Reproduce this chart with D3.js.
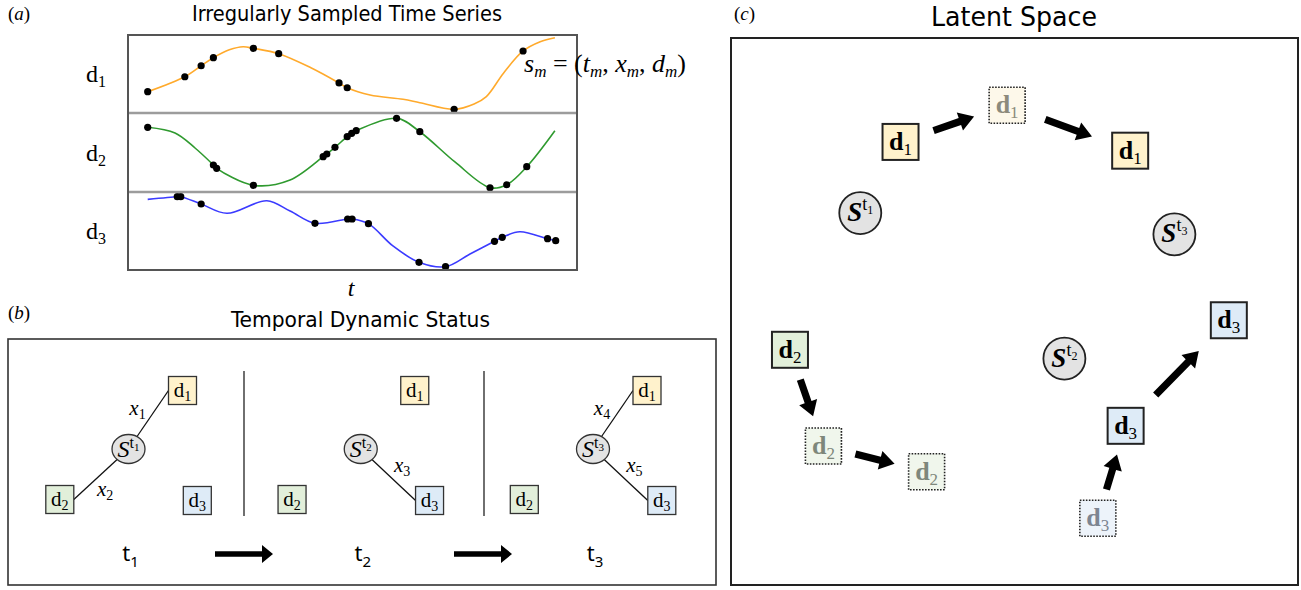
<!DOCTYPE html>
<html>
<head>
<meta charset="utf-8">
<script src="https://d3js.org/d3.v7.min.js"></script>
<style>
  body { margin: 0; background: #fff; }
</style>
</head>
<body>
<script>
// ---------- panel (a): sampled points [t, value] and extra curve shape points
// t runs 0..100, each value 0..10 inside its own strip
var d1Samples = [[0,2.73],[9.1,4.65],[13.1,6.06],[16.1,7.09],[25.9,8.29],[32.1,7.6],[46.9,3.85],[48.9,3.24],[75.1,0.47],[92,7.95]];
var d1Shape   = [[20,8.1],[23.4,8.5],[40,5.8],[54.5,2.31],[62.6,1.76],[66.7,1.32],[80,1.15],[83,2.1],[87.2,5.1],[96.2,9.14],[99.8,9.65]];
var d2Samples = [[0,8.19],[16.1,3.42],[16.9,3.0],[25.9,0.85],[43.0,4.47],[43.9,4.81],[45.9,5.66],[48.9,7.0],[50.0,7.43],[51.1,7.76],[61.0,9.33],[66.7,7.63],[83.9,0.54],[88.0,0.92],[92.9,3.2]];
var d2Shape   = [[6.7,7.47],[11.6,5.57],[34.9,1.52],[75.3,3.8],[99.8,7.76]];
var d3Samples = [[7.25,9.4],[8.1,9.4],[13.1,8.46],[41.0,5.99],[49.0,6.54],[50.1,6.54],[54.1,5.94],[66.5,0.99],[73.0,0.42],[85.0,3.68],[86.9,4.19],[98.0,4.01],[100,3.76]];
var d3Shape   = [[0,9.06],[19.4,7.27],[29.2,8.88],[34.9,7.56],[60.1,3.08],[79,2.05],[91.2,4.91]];

// ---------- panel (b): which dimensions are observed at each time step
var steps = ["1","2","3"];
var stepDims = [[1,2],[3],[1,3]];
var stepObs = [["1","2"],["3"],["4","5"]];

// ---------- panel (c): latent coordinates (0..10) per dimension at t1,t2,t3
var d1Latent = [[2.99,8.10],[4.87,8.77],[7.04,7.94]];
var d2Latent = [[1.04,4.30],[1.63,2.54],[3.45,2.07]];
var d3Latent = [[6.47,1.22],[6.96,2.91],[8.78,4.84]];
var statusLatent = [[2.28,6.80],[5.88,4.14],[7.82,6.41]];

var W = 1301, H = 590;
var serif = "'Liberation Serif', 'DejaVu Serif', serif";
var narrow = "'Liberation Sans Narrow', 'DejaVu Sans Condensed', 'Roboto Condensed', sans-serif";
var sans = "'Noto Sans', 'Open Sans', sans-serif";

var dimFill  = ["#fff2cc", "#e2efda", "#deebf7"];
var ghostFill = ["#fdf8ea", "#f0f6ec", "#edf3fa"];
var ghostText = ["#8c8a7c", "#7e877b", "#7d8591"];

var svg = d3.select("body").append("svg")
  .attr("width", W).attr("height", H)
  .style("font-family", serif);

// text with a subscript (and optional superscript) -- parts: [text, size, dy, extra style]
function rich(g, x, y, parts, anchor) {
  var t = g.append("text").attr("x", x).attr("y", y)
    .attr("text-anchor", anchor || "middle");
  parts.forEach(function(p) {
    var s = t.append("tspan").text(p[0]).attr("font-size", p[1]).attr("dy", p[2] || 0);
    if (p[3]) for (var k in p[3]) s.style(k, p[3][k]);
  });
  return t;
}

function arrowPath(x0, y0, x1, y1, sw, hw, hl) {
  var dx = x1 - x0, dy = y1 - y0, L = Math.hypot(dx, dy);
  var ux = dx / L, uy = dy / L, nx = -uy, ny = ux;
  var bx = x1 - ux * hl, by = y1 - uy * hl;
  var pts = [[x0 + nx*sw, y0 + ny*sw], [bx + nx*sw, by + ny*sw], [bx + nx*hw, by + ny*hw],
             [x1, y1], [bx - nx*hw, by - ny*hw], [bx - nx*sw, by - ny*sw], [x0 - nx*sw, y0 - ny*sw]];
  return "M" + pts.map(function(p) { return p[0].toFixed(1) + "," + p[1].toFixed(1); }).join("L") + "Z";
}

var it = {"font-style": "italic"};

// ================= (a) Irregularly Sampled Time Series =================
var gA = svg.append("g");
rich(gA, 8, 20, [["(", 19], ["a", 19, 0, it], [")", 19]], "start");
gA.append("text").attr("x", 192).attr("y", 21).attr("font-family", narrow)
  .attr("font-size", 21).attr("textLength", 310).attr("lengthAdjust", "spacingAndGlyphs")
  .text("Irregularly Sampled Time Series");

var xA = d3.scaleLinear().domain([0, 100]).range([147.7, 555.7]);
var strips = [[113, 35], [192, 113], [270, 192]];
var seriesA = [
  {samples: d1Samples, shape: d1Shape, color: "#ffaa2c"},
  {samples: d2Samples, shape: d2Shape, color: "#2f9a2f"},
  {samples: d3Samples, shape: d3Shape, color: "#3b3bff"}
];

seriesA.forEach(function(s, i) {
  var y = d3.scaleLinear().domain([0, 10]).range(strips[i]);
  var pts = s.samples.concat(s.shape).sort(function(a, b) { return a[0] - b[0]; });
  var line = d3.line().x(function(d) { return xA(d[0]); }).y(function(d) { return y(d[1]); })
    .curve(d3.curveCatmullRom.alpha(0.5));
  gA.append("path").attr("d", line(pts)).attr("fill", "none")
    .attr("stroke", s.color).attr("stroke-width", 1.6);
  gA.selectAll(null).data(s.samples).enter().append("circle")
    .attr("cx", function(d) { return xA(d[0]); }).attr("cy", function(d) { return y(d[1]); })
    .attr("r", 3.6).attr("fill", "#000");
  rich(gA, 86, (strips[i][0] + strips[i][1]) / 2 + 8,
    [["d", 24], [String(i + 1), 16, 5]], "start");
});
// strip separators and frame
gA.selectAll(null).data([113, 192]).enter().append("line")
  .attr("x1", 128).attr("x2", 577).attr("y1", function(d) { return d; }).attr("y2", function(d) { return d; })
  .attr("stroke", "#9c9c9c").attr("stroke-width", 2.4);
gA.append("rect").attr("x", 128).attr("y", 35).attr("width", 449).attr("height", 235)
  .attr("fill", "none").attr("stroke", "#555").attr("stroke-width", 2);

rich(gA, 524, 72, [["s", 26, 0, it], ["m", 17, 5, it], [" = (", 26, -5], ["t", 26, 0, it], ["m", 17, 5, it],
  [", ", 26, -5], ["x", 26, 0, it], ["m", 17, 5, it], [", ", 26, -5], ["d", 26, 0, it], ["m", 17, 5, it], [")", 26, -5]], "start");
rich(gA, 351, 296, [["t", 24, 0, it]]);

// ================= (b) Temporal Dynamic Status =================
var gB = svg.append("g");
rich(gB, 8, 319, [["(", 19], ["b", 19, 0, it], [")", 19]], "start");
gB.append("text").attr("x", 231).attr("y", 327).attr("font-family", narrow)
  .attr("font-size", 22).attr("textLength", 259).attr("lengthAdjust", "spacingAndGlyphs")
  .text("Temporal Dynamic Status");
gB.append("rect").attr("x", 8).attr("y", 339).attr("width", 708).attr("height", 246)
  .attr("fill", "none").attr("stroke", "#333").attr("stroke-width", 1.6);

var colX = d3.scaleLinear().domain([0, 2]).range([128.5, 593]);
var sY = 449, bs = 28;
var nodeOff = {1: [54, 390.5], 2: [-68.7, 499.5], 3: [68.8, 500.5]};
var labOff = {1: [-11, -10], 2: [4, 17], 3: [14, -8]};

gB.selectAll(null).data([244, 484]).enter().append("line")
  .attr("x1", function(d) { return d; }).attr("x2", function(d) { return d; })
  .attr("y1", 371).attr("y2", 516).attr("stroke", "#222").attr("stroke-width", 1.3);

steps.forEach(function(st, i) {
  var cx = colX(i);
  // links first, under nodes
  stepDims[i].forEach(function(dm, j) {
    var nx = cx + nodeOff[dm][0], ny = nodeOff[dm][1];
    var ex = nx + (nx > cx ? -bs / 2 : bs / 2);
    gB.append("line").attr("x1", cx).attr("y1", sY).attr("x2", ex).attr("y2", ny)
      .attr("stroke", "#111").attr("stroke-width", 1.3);
    var mx = (cx + ex) / 2 + labOff[dm][0], my = (sY + ny) / 2 + labOff[dm][1];
    rich(gB, mx, my + 5, [["x", 21, 0, it], [stepObs[i][j], 14, 4]]);
  });
  [1, 2, 3].forEach(function(dm) {
    var nx = cx + nodeOff[dm][0], ny = nodeOff[dm][1];
    gB.append("rect").attr("x", nx - bs / 2).attr("y", ny - bs / 2).attr("width", bs).attr("height", bs)
      .attr("fill", dimFill[dm - 1]).attr("stroke", "#333").attr("stroke-width", 1.3);
    rich(gB, nx, ny + 6, [["d", 21], [String(dm), 14, 4]]);
  });
  gB.append("ellipse").attr("cx", cx).attr("cy", sY).attr("rx", 16.5).attr("ry", 14.5)
    .attr("fill", "#e3e3e3").attr("stroke", "#333").attr("stroke-width", 1.3);
  rich(gB, cx, sY + 8, [["S", 24, 0, it], ["t", 16, -9], [st, 11, 3]]);
  rich(gB, cx + 2, 561, [["t", 22], [st, 15, 6]]).attr("font-family", sans);
});
// step arrows
[244, 483].forEach(function(ax) {
  gB.append("path").attr("d", arrowPath(ax - 29, 554, ax + 29, 554, 2.8, 9, 11)).attr("fill", "#000");
});

// ================= (c) Latent Space =================
var gC = svg.append("g");
rich(gC, 734, 20, [["(", 19], ["c", 19, 0, it], [")", 19]], "start");
gC.append("text").attr("x", 931).attr("y", 26).attr("font-family", narrow)
  .attr("font-size", 27).attr("textLength", 166).attr("lengthAdjust", "spacingAndGlyphs")
  .text("Latent Space");
gC.append("rect").attr("x", 731).attr("y", 38).attr("width", 567).attr("height", 547)
  .attr("fill", "none").attr("stroke", "#222").attr("stroke-width", 2);

var xC = d3.scaleLinear().domain([0, 10]).range([731, 1298]);
var yC = d3.scaleLinear().domain([0, 10]).range([585, 38]);
var latents = [d1Latent, d2Latent, d3Latent];
var cb = 36;

latents.forEach(function(pos, k) {
  for (var i = 0; i < pos.length - 1; i++) {
    var x0 = xC(pos[i][0]), y0 = yC(pos[i][1]), x1 = xC(pos[i + 1][0]), y1 = yC(pos[i + 1][1]);
    var L = Math.hypot(x1 - x0, y1 - y0), gap = Math.min(0.31 * L, 43);
    var ux = (x1 - x0) / L, uy = (y1 - y0) / L;
    gC.append("path").attr("d", arrowPath(x0 + ux * gap, y0 + uy * gap, x1 - ux * gap, y1 - uy * gap, 3.6, 9.5, 15))
      .attr("fill", "#000");
  }
  pos.forEach(function(p, i) {
    var seen = stepDims[i].indexOf(k + 1) >= 0;
    var x = xC(p[0]), y = yC(p[1]);
    gC.append("rect").attr("x", x - cb / 2).attr("y", y - cb / 2).attr("width", cb).attr("height", cb)
      .attr("fill", seen ? dimFill[k] : ghostFill[k])
      .attr("stroke", "#222").attr("stroke-width", seen ? 2 : 1.6)
      .attr("stroke-dasharray", seen ? null : "1.6,1.4");
    rich(gC, x, y + 8, [["d", 26, 0, {"font-weight": "bold"}], [String(k + 1), 17, 5]])
      .attr("fill", seen ? "#000" : ghostText[k]);
  });
});

statusLatent.forEach(function(p, i) {
  var x = xC(p[0]), y = yC(p[1]);
  gC.append("circle").attr("cx", x).attr("cy", y).attr("r", 21)
    .attr("fill", "#e3e3e3").attr("stroke", "#222").attr("stroke-width", 1.8);
  rich(gC, x, y + 8, [["S", 27, 0, {"font-style": "italic", "font-weight": "bold"}], ["t", 18, -11], [steps[i], 12, 4]]);
});
</script>
</body>
</html>
